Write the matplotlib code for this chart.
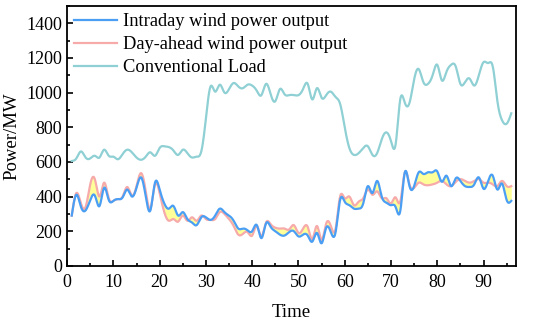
import numpy as np
import matplotlib
matplotlib.use("Agg")
import matplotlib.pyplot as plt
from matplotlib.ticker import MultipleLocator

time = np.arange(1, 97)

intraday = [290, 410, 340, 320, 380, 405, 345, 450, 380, 375,
            385, 395, 440, 400, 450, 510, 400, 320, 480, 440,
            360, 330, 345, 290, 310, 270, 250, 235, 280, 280,
            265, 290, 330, 310, 290, 260, 215, 215, 205, 200,
            235, 160, 245, 225, 200, 180, 175, 195, 200, 170,
            180, 175, 140, 190, 130, 220, 195, 190, 380, 370,
            350, 330, 330, 360, 460, 420, 490, 400, 365, 350,
            340, 315, 540, 460, 460, 540, 530, 540, 540, 545,
            485, 520, 460, 505, 490, 460, 455, 470, 510, 445,
            490, 520, 440, 475, 380, 375]

day_ahead = [290, 420, 360, 340, 470, 500, 400, 480, 390, 375,
             385, 400, 455, 405, 460, 535, 430, 330, 470, 420,
             310, 260, 270, 255, 290, 260, 280, 260, 290, 270,
             265, 270, 310, 300, 270, 230, 180, 185, 195, 175,
             230, 170, 250, 240, 220, 215, 215, 210, 235, 190,
             215, 225, 155, 230, 150, 245, 230, 210, 400, 390,
             400, 350, 370, 390, 440, 410, 430, 390, 390, 360,
             395, 370, 540, 470, 450, 480, 470, 465, 470, 480,
             490, 470, 460, 485, 500, 490, 480, 490, 500, 480,
             480, 470, 460, 490, 460, 460]

load = [605, 620, 660, 625, 620, 635, 625, 670, 635, 630,
        615, 645, 670, 655, 625, 612, 630, 655, 635, 680,
        690, 685, 665, 640, 670, 650, 625, 630, 660, 850,
        1035, 1005, 1045, 1000, 1020, 1055, 1035, 1025, 1045, 1040,
        1010, 985, 1050, 990, 950, 1020, 990, 985, 985, 985,
        1020, 1050, 960, 1025, 970, 985, 1005, 975, 935, 800,
        680, 640, 650, 680, 690, 640, 650, 730, 770, 720,
        700, 960, 940, 940, 1075, 1135, 1060, 1050, 1100, 1160,
        1070, 1120, 1160, 1150, 1050, 1060, 1080, 1040, 1100, 1175,
        1170, 1150, 950, 840, 820, 880]

series_labels = ["Intraday wind power output", "Day-ahead wind power output", "Conventional Load"]


def smooth(x, y, n=12):
    # natural cubic spline through the points (rendering only)
    x = np.asarray(x, float)
    y = np.asarray(y, float)
    N = len(x)
    h = np.diff(x)
    A = np.zeros((N, N))
    b = np.zeros(N)
    A[0, 0] = 1
    A[-1, -1] = 1
    for i in range(1, N - 1):
        A[i, i - 1] = h[i - 1]
        A[i, i] = 2 * (h[i - 1] + h[i])
        A[i, i + 1] = h[i]
        b[i] = 3 * ((y[i + 1] - y[i]) / h[i] - (y[i] - y[i - 1]) / h[i - 1])
    c = np.linalg.solve(A, b)
    xs, ys = [], []
    for i in range(N - 1):
        bb = (y[i + 1] - y[i]) / h[i] - h[i] * (2 * c[i] + c[i + 1]) / 3
        d = (c[i + 1] - c[i]) / (3 * h[i])
        t = np.linspace(0, h[i], n, endpoint=False)
        xs.append(x[i] + t)
        ys.append(y[i] + bb * t + c[i] * t ** 2 + d * t ** 3)
    xs.append([x[-1]])
    ys.append([y[-1]])
    return np.concatenate(xs), np.concatenate(ys)


plt.rcParams['font.family'] = ['Liberation Serif', 'DejaVu Serif']

fig = plt.figure(figsize=(5.5, 3.25), dpi=100)
ax = fig.add_axes([0.122, 0.182, 0.816, 0.8])

xi, yi = smooth(time, intraday)
xd, yd = smooth(time, day_ahead)
xl, yl = smooth(time, load)

ax.fill_between(xi, yi, yd, color="#ffff99", linewidth=0, zorder=1)
ax.plot(xi, yi, color="#4a9ff5", lw=1.6, label=series_labels[0], zorder=3)
ax.plot(xd, yd, color="#f7aaaa", lw=1.6, label=series_labels[1], zorder=2)
ax.plot(xl, yl, color="#8fd0d4", lw=1.6, label=series_labels[2], zorder=2)

ax.set_xlim(0, 97)
ax.set_ylim(0, 1500)
ax.xaxis.set_major_locator(MultipleLocator(10))
ax.xaxis.set_minor_locator(MultipleLocator(5))
ax.yaxis.set_major_locator(MultipleLocator(200))
ax.yaxis.set_minor_locator(MultipleLocator(100))
ax.tick_params(which='both', direction='in', top=False, right=False, labelsize=13, width=1.2)
ax.tick_params(which='major', length=4)
ax.tick_params(which='minor', length=2.5)
ax.tick_params(axis='x', which='major', pad=6)
ax.tick_params(axis='y', which='major', pad=3.5)
for s in ax.spines.values():
    s.set_linewidth(1.3)

ax.set_xlabel("Time", fontsize=13.5, labelpad=9)
ax.set_ylabel("Power/MW", fontsize=13.5, labelpad=4)

ax.legend(loc='upper left', frameon=False, fontsize=13.3, handlelength=2.3,
          borderaxespad=0.1, borderpad=0.3, labelspacing=0.32, handletextpad=0.3)

fig.savefig("out.png", dpi=100)
